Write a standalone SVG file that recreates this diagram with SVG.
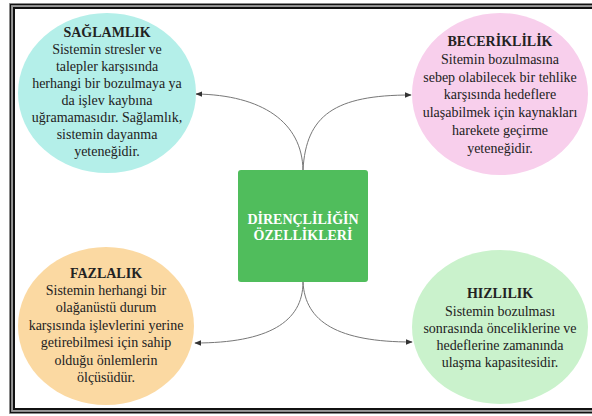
<svg xmlns="http://www.w3.org/2000/svg" width="592" height="416" viewBox="0 0 592 416">
<defs>
<marker id="ah" viewBox="0 0 10 10" refX="9" refY="5" markerWidth="7" markerHeight="7" markerUnits="userSpaceOnUse" orient="auto">
<path d="M0,1 L10,5 L0,9 z" fill="#333"/>
</marker>
<style>
.t{font-family:"Liberation Serif","DejaVu Serif",serif;font-size:14px;fill:#222;text-anchor:middle}
.h{font-weight:bold}
.c{font-family:"Liberation Serif","DejaVu Serif",serif;font-size:14px;font-weight:bold;fill:#fff;text-anchor:middle}
.conn{fill:none;stroke:#777;stroke-width:1;marker-end:url(#ah)}
</style>
</defs>
<rect width="592" height="416" fill="#fff"/>
<g id="frame" fill="none">
<rect x="11.5" y="5.5" width="590" height="406" stroke="#999" stroke-width="5"/>
<rect x="10.5" y="4.5" width="592" height="408" stroke="#111" stroke-width="1.2"/>
<rect x="14" y="8" width="586" height="401" stroke="#111" stroke-width="2"/>
</g>
<g id="connectors">
<path class="conn" d="M303,170 C302,122 262,95 196,94"/>
<path class="conn" d="M303,170 C306,115 335,95 411,95"/>
<path class="conn" d="M303,282 C303,322 268,343 195,343"/>
<path class="conn" d="M303,282 C305,322 338,342 412,342"/>
</g>
<g id="center">
<rect x="238" y="170" width="130" height="112" rx="3" fill="#50bd5c"/>
<text class="c" x="303" y="224">DİRENÇLİLİĞİN</text>
<text class="c" x="303" y="240">ÖZELLİKLERİ</text>
</g>
<g id="saglamlik">
<ellipse cx="107" cy="93" rx="89" ry="80" fill="#b4efe9"/>
<text class="t h" x="107" y="37">SAĞLAMLIK</text>
<text class="t" x="107" y="54">Sistemin stresler ve</text>
<text class="t" x="107" y="71">talepler karşısında</text>
<text class="t" x="107" y="88">herhangi bir bozulmaya ya</text>
<text class="t" x="107" y="105">da işlev kaybına</text>
<text class="t" x="107" y="122">uğramamasıdır. Sağlamlık,</text>
<text class="t" x="107" y="139">sistemin dayanma</text>
<text class="t" x="107" y="156">yeteneğidir.</text>
</g>
<g id="beceriklilik">
<ellipse cx="500" cy="94" rx="88" ry="81" fill="#f8cfec"/>
<text class="t h" x="500" y="46">BECERİKLİLİK</text>
<text class="t" x="500" y="64">Sitemin bozulmasına</text>
<text class="t" x="500" y="82">sebep olabilecek bir tehlike</text>
<text class="t" x="500" y="99">karşısında hedeflere</text>
<text class="t" x="500" y="117">ulaşabilmek için kaynakları</text>
<text class="t" x="500" y="135">harekete geçirme</text>
<text class="t" x="500" y="153">yeteneğidir.</text>
</g>
<g id="fazlalik">
<ellipse cx="106" cy="326" rx="88" ry="79" fill="#fbd9a2"/>
<text class="t h" x="106" y="278">FAZLALIK</text>
<text class="t" x="106" y="295">Sistemin herhangi bir</text>
<text class="t" x="106" y="312">olağanüstü durum</text>
<text class="t" x="106" y="330">karşısında işlevlerini yerine</text>
<text class="t" x="106" y="347">getirebilmesi için sahip</text>
<text class="t" x="106" y="365">olduğu önlemlerin</text>
<text class="t" x="106" y="382">ölçüsüdür.</text>
</g>
<g id="hizlilik">
<ellipse cx="500" cy="327" rx="88" ry="77" fill="#caf2cc"/>
<text class="t h" x="500" y="298">HIZLILIK</text>
<text class="t" x="500" y="316">Sistemin bozulması</text>
<text class="t" x="500" y="333">sonrasında önceliklerine ve</text>
<text class="t" x="500" y="350">hedeflerine zamanında</text>
<text class="t" x="500" y="367">ulaşma kapasitesidir.</text>
</g>
</svg>
